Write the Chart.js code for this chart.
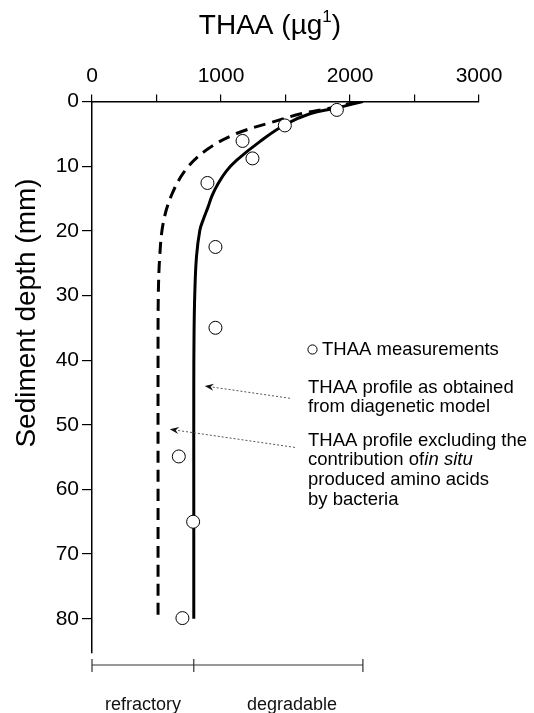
<!DOCTYPE html>
<html>
<head>
<meta charset="utf-8">
<script src="https://cdn.jsdelivr.net/npm/chart.js@4.4.1/dist/chart.umd.min.js"></script>
<style>
  html, body { margin: 0; padding: 0; background: #fff; }
  canvas { display: block; }
</style>
</head>
<body>
<canvas id="profile" width="534" height="713"></canvas>
<script>
// THAA measurements: concentration (µg) against sediment depth (mm)
const measuredThaa  = [1898, 1495, 1167, 1244, 895, 957, 957, 673, 784, 701];
const measuredDepth = [1.3, 3.7, 6.1, 8.8, 12.6, 22.5, 35.0, 54.9, 65.0, 79.9];

// profile from the diagenetic model
const modelThaa  = [2100, 1898, 1689, 1495, 1301, 1120, 1040, 978, 930, 900, 862, 836, 810, 797, 791, 789, 789, 789];
const modelDepth = [0, 1.0, 1.9, 3.6, 6.2, 9.1, 10.8, 12.7, 14.6, 16.3, 18.3, 19.9, 24.0, 29.6, 36.0, 45.0, 60.0, 80.0];

// same profile without in situ produced amino acids
const excludedThaa  = [2060, 1850, 1620, 1404, 1120, 900, 732, 616, 551, 525, 514, 512, 512, 512];
const excludedDepth = [0, 1.0, 1.9, 3.15, 4.95, 7.3, 10.4, 14.5, 18.9, 24.0, 30.0, 40.0, 60.0, 80.0];

const thaaTicks  = [0, 1000, 2000, 3000];
const depthTicks = [0, 10, 20, 30, 40, 50, 60, 70, 80];

const FONT = '"Liberation Sans", Arial, Helvetica, sans-serif';

const toPoints = (xs, ys) => xs.map((v, i) => ({ x: v, y: ys[i] }));

// split between refractory and degradable fraction: deep model value
const refractoryEdge = modelThaa[modelThaa.length - 1];

const notes = {
    id: 'notes',
    afterDraw(chart) {
        const ctx = chart.ctx;
        const xs = chart.scales.x;
        const ys = chart.scales.y;
        const area = chart.chartArea;
        ctx.save();
        ctx.fillStyle = '#000';
        ctx.strokeStyle = '#000';

        // top title with superscript
        ctx.textBaseline = 'alphabetic';
        const main = 'THAA (µg';
        ctx.font = '17px ' + FONT;
        const supW = ctx.measureText('1').width;
        ctx.font = '28px ' + FONT;
        const mainW = ctx.measureText(main).width;
        const closeW = ctx.measureText(')').width;
        const tx = 270 - (mainW + supW + closeW) / 2;
        ctx.textAlign = 'left';
        ctx.fillText(main, tx, 34);
        ctx.font = '17px ' + FONT;
        ctx.fillText('1', tx + mainW, 22);
        ctx.font = '28px ' + FONT;
        ctx.fillText(')', tx + mainW + supW, 34);

        // rotated depth title
        ctx.save();
        ctx.translate(35, 313);
        ctx.rotate(-Math.PI / 2);
        ctx.textAlign = 'center';
        ctx.fillText('Sediment depth (mm)', 0, 0);
        ctx.restore();

        // legend / annotation text
        ctx.font = '18.5px ' + FONT;
        ctx.textBaseline = 'middle';
        ctx.textAlign = 'left';
        ctx.lineWidth = 1;
        ctx.beginPath();
        ctx.arc(312.5, 349.5, 4.6, 0, Math.PI * 2);
        ctx.stroke();
        ctx.fillText('THAA measurements', 322, 349.5);
        ctx.fillText('THAA profile as obtained', 308, 387.5);
        ctx.fillText('from diagenetic model', 308, 407);
        ctx.fillText('THAA profile excluding the', 308, 440.5);
        const lead = 'contribution of ';
        ctx.fillText(lead, 308, 460);
        const leadW = ctx.measureText(lead).width;
        ctx.font = 'italic 18.5px ' + FONT;
        ctx.fillText('in situ', 308 + leadW - 5, 460);
        ctx.font = '18.5px ' + FONT;
        ctx.fillText('produced amino acids', 308, 480);
        ctx.fillText('by bacteria', 308, 500);

        // dotted pointer arrows to the two curves
        const arrows = [
            { from: [1534, 45.9], to: [874, 44.0] },
            { from: [1573, 53.5], to: [603, 50.7] }
        ];
        arrows.forEach(a => {
            const x1 = xs.getPixelForValue(a.from[0]), y1 = ys.getPixelForValue(a.from[1]);
            const x2 = xs.getPixelForValue(a.to[0]), y2 = ys.getPixelForValue(a.to[1]);
            const ang = Math.atan2(y2 - y1, x2 - x1);
            const c = Math.cos(ang), s = Math.sin(ang);
            ctx.strokeStyle = '#555';
            ctx.lineWidth = 1;
            ctx.setLineDash([2, 2]);
            ctx.beginPath();
            ctx.moveTo(x1, y1);
            ctx.lineTo(x2 - 6 * c, y2 - 6 * s);
            ctx.stroke();
            ctx.setLineDash([]);
            ctx.fillStyle = '#111';
            ctx.beginPath();
            ctx.moveTo(x2, y2);
            ctx.lineTo(x2 - 9 * c + 3.5 * s, y2 - 9 * s - 3.5 * c);
            ctx.lineTo(x2 - 6 * c, y2 - 6 * s);
            ctx.lineTo(x2 - 9 * c - 3.5 * s, y2 - 9 * s + 3.5 * c);
            ctx.closePath();
            ctx.fill();
        });

        // refractory / degradable bracket under the plot
        const by = area.bottom + 12;
        const bx = [0, refractoryEdge, 2100].map(v => xs.getPixelForValue(v));
        ctx.strokeStyle = '#333';
        ctx.lineWidth = 1.2;
        ctx.beginPath();
        ctx.moveTo(bx[0], by);
        ctx.lineTo(bx[2], by);
        bx.forEach(p => {
            ctx.moveTo(p, by - 6);
            ctx.lineTo(p, by + 7);
        });
        ctx.stroke();
        ctx.fillStyle = '#111';
        ctx.font = '18px ' + FONT;
        ctx.textAlign = 'center';
        ctx.fillText('refractory', (bx[0] + bx[1]) / 2, by + 40);
        ctx.fillText('degradable', xs.getPixelForValue(1550), by + 40);

        ctx.restore();
    }
};

new Chart(document.getElementById('profile').getContext('2d'), {
    type: 'scatter',
    data: {
        datasets: [
            {
                label: 'THAA measurements',
                data: toPoints(measuredThaa, measuredDepth),
                pointRadius: 6.5,
                pointBorderWidth: 1,
                pointBorderColor: '#000',
                pointBackgroundColor: '#fff',
                order: 0
            },
            {
                label: 'THAA profile (diagenetic model)',
                data: toPoints(modelThaa, modelDepth),
                showLine: true,
                borderColor: '#000',
                borderWidth: 3,
                pointRadius: 0,
                tension: 0.4,
                order: 1
            },
            {
                label: 'THAA profile excluding in situ production',
                data: toPoints(excludedThaa, excludedDepth),
                showLine: true,
                borderColor: '#000',
                borderWidth: 3,
                borderDash: [12, 7],
                pointRadius: 0,
                tension: 0.35,
                order: 2
            }
        ]
    },
    options: {
        responsive: false,
        animation: false,
        devicePixelRatio: 1,
        layout: { padding: { top: 0, left: 0, right: 55, bottom: 60 } },
        plugins: {
            legend: { display: false },
            tooltip: { enabled: false }
        },
        scales: {
            x: {
                type: 'linear',
                position: 'top',
                min: 0,
                max: 3000,
                ticks: {
                    stepSize: 500,
                    autoSkip: false,
                    maxRotation: 0,
                    color: '#000',
                    padding: 6,
                    font: { size: 21, family: FONT },
                    callback: v => thaaTicks.includes(v) ? String(v) : ''
                },
                grid: { drawOnChartArea: false, drawTicks: true, tickLength: 7, color: '#000', lineWidth: 1.2 },
                border: { display: true, color: '#000', width: 1.5 },
                afterFit: s => { s.height = 101.5; }
            },
            y: {
                type: 'linear',
                reverse: true,
                min: 0,
                max: 85.3,
                afterBuildTicks: s => { s.ticks = depthTicks.map(v => ({ value: v })); },
                ticks: {
                    color: '#000',
                    padding: 3,
                    font: { size: 21, family: FONT }
                },
                grid: { drawOnChartArea: false, drawTicks: true, tickLength: 10, color: '#000', lineWidth: 1.2 },
                border: { display: true, color: '#000', width: 1.5 },
                afterFit: s => { s.width = 92; }
            }
        }
    },
    plugins: [notes]
});
</script>
</body>
</html>
